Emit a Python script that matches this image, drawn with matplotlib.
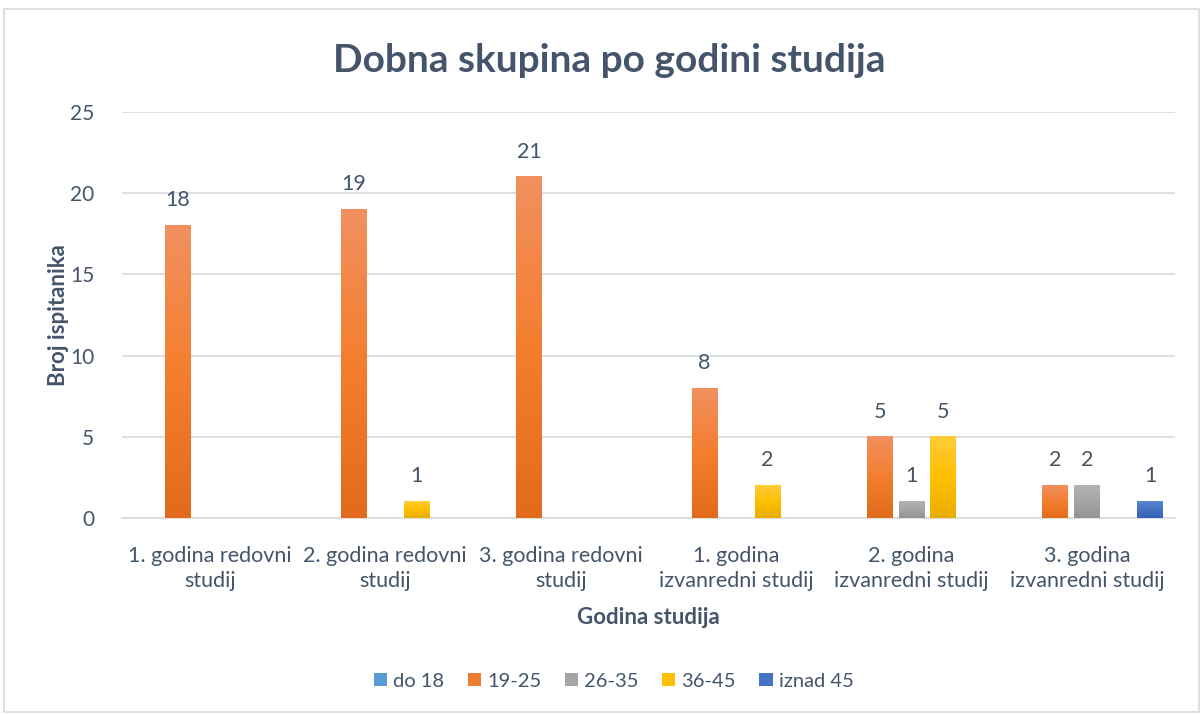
import numpy as np
import matplotlib
matplotlib.use('Agg')
import matplotlib.pyplot as plt
from matplotlib.colors import LinearSegmentedColormap
from matplotlib.patches import Rectangle, Patch

plt.rcParams['font.family'] = ['Lato', 'DejaVu Sans']

# Data
categories = ['1. godina redovni\nstudij', '2. godina redovni\nstudij', '3. godina redovni\nstudij',
              '1. godina\nizvanredni studij', '2. godina\nizvanredni studij', '3. godina\nizvanredni studij']
series = ['do 18', '19-25', '26-35', '36-45', 'iznad 45']
do_18 = [0, 0, 0, 0, 0, 0]
age_19_25 = [18, 19, 21, 8, 5, 2]
age_26_35 = [0, 0, 0, 0, 1, 2]
age_36_45 = [0, 1, 0, 2, 5, 0]
iznad_45 = [0, 0, 0, 0, 0, 1]
values = [do_18, age_19_25, age_26_35, age_36_45, iznad_45]

# gradient stops (top, middle, bottom) per series
grads = [
    ('#7FB2E0', '#5B9BD5', '#4A8AC6'),
    ('#F19060', '#F47E2E', '#E26A1C'),
    ('#B3B3B3', '#A5A5A5', '#939393'),
    ('#FFCB3A', '#FFC000', '#E8AE00'),
    ('#5C86D0', '#4472C4', '#3762B4'),
]
legend_cols = ['#5B9BD5', '#ED7D31', '#A5A5A5', '#FFC000', '#4472C4']
text_col = '#44546A'
grid_col = '#D9DDE3'

fig = plt.figure(figsize=(12.01, 7.14), dpi=100)
ax = fig.add_axes([0.1016, 0.2745, 0.8765, 0.5686])

x = np.arange(len(categories))
slot = 0.18
width = 0.148
grad = np.linspace(0, 1, 256).reshape(-1, 1)

for i, (name, vals) in enumerate(zip(series, values)):
    pos = x + (i - 2) * slot
    bars = ax.bar(pos, vals, width, color='none', zorder=3)
    cmap = LinearSegmentedColormap.from_list(name, grads[i])
    for b, v in zip(bars, vals):
        if v > 0:
            ax.imshow(grad, extent=[b.get_x(), b.get_x() + b.get_width(), 0, v],
                      aspect='auto', cmap=cmap, zorder=3, origin='upper')
    ax.bar_label(bars, labels=[str(v) if v else '' for v in vals], padding=11,
                 fontsize=15.5, color=text_col)

ax.set_xlim(-0.5, len(categories) - 0.5)
ax.set_ylim(0, 25)
ax.set_yticks(range(0, 26, 5))
ax.set_xticks(x)
ax.set_xticklabels(categories, linespacing=1.3)
ax.yaxis.grid(True, color=grid_col, linewidth=1.3, zorder=0)
ax.set_axisbelow(True)
for s in ['top', 'right', 'left']:
    ax.spines[s].set_visible(False)
ax.spines['bottom'].set_color(grid_col)
ax.spines['bottom'].set_linewidth(1.3)
ax.tick_params(axis='both', length=0, labelcolor=text_col)
ax.tick_params(axis='y', pad=20, labelsize=15)
ax.tick_params(axis='x', pad=20, labelsize=15.5)

ax.set_xlabel('Godina studija', fontsize=16, fontweight='bold', color=text_col, labelpad=12)
ax.set_ylabel('Broj ispitanika', fontsize=16, fontweight='bold', color=text_col, labelpad=1)
fig.suptitle('Dobna skupina po godini studija', x=0.507, y=0.94, fontsize=28,
             fontweight='bold', color=text_col)

handles = [Patch(facecolor=c, edgecolor='none') for c in legend_cols]
fig.legend(handles, series, loc='center', bbox_to_anchor=(0.511, 0.046), ncol=5,
           frameon=False, fontsize=14.5, labelcolor=text_col, handlelength=0.67,
           handleheight=0.67, handletextpad=0.3, columnspacing=1.15)

fig.patches.append(Rectangle((0.003, 0.003), 0.995, 0.984, transform=fig.transFigure,
                             fill=False, edgecolor='#D9D9D9', linewidth=1.2))

fig.savefig('out.png', dpi=100)
